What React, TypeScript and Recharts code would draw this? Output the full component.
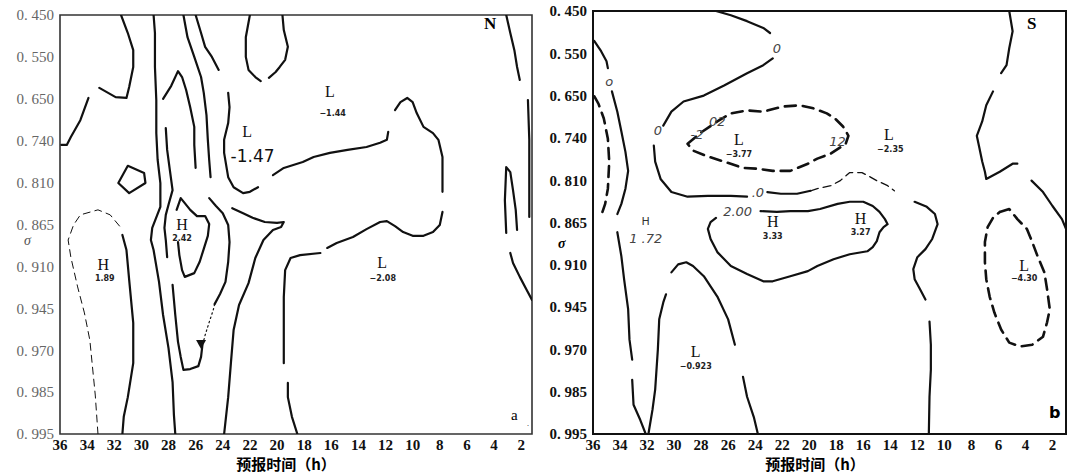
import React from 'react';
import { ComposedChart, Line, Scatter, XAxis, YAxis, ReferenceArea } from 'recharts';

// sigma levels are drawn equally spaced, so y is the level index (0 = 0.450 ... 10 = 0.995)
const sigmaLevels = ['0.450', '0.550', '0.650', '0.740', '0.810', '0.865', '0.910', '0.945', '0.970', '0.985', '0.995'];
const levelTicks = [0, 1, 2, 3, 4, 5, 6, 7, 8, 9, 10];
const hourTicks = [36, 34, 32, 30, 28, 26, 24, 22, 20, 18, 16, 14, 12, 10, 8, 6, 4, 2];

type Pt = [number, number]; // [forecast hour, sigma level index]

// ---- panel a (N) ----
const aWestHook: Pt[] = [[31.5, 0], [31.0, 0.43], [30.6, 0.84], [30.6, 1.24], [30.9, 1.72], [31.1, 1.98], [31.9, 1.96], [33.1, 1.74]];
const aWestEdge: Pt[] = [[33.9, 1.98], [34.5, 2.51], [35.2, 2.91], [35.5, 3.1], [35.9, 3.1]];
const aCell: Pt[] = [[31.0, 3.6], [29.8, 3.77], [29.7, 4.01], [30.9, 4.25], [31.7, 4.01], [31.0, 3.6]];
const aDomeDashed: Pt[] = [[33.2, 10], [33.4, 9.07], [33.8, 7.76], [34.2, 7.11], [34.7, 6.49], [35.2, 5.78], [35.4, 5.37], [35.0, 5.01], [34.5, 4.77], [33.2, 4.65], [32.3, 4.77], [31.5, 5.08]];
const aDomeSolid: Pt[] = [[31.4, 5.25], [31.1, 5.61], [30.9, 6.32], [30.6, 7.35], [30.6, 8.31], [31.0, 9.12], [31.3, 9.59], [31.4, 10]];
const aColumn: Pt[] = [[29.1, 0], [29.0, 0.43], [29.0, 1.24], [28.9, 2.03], [28.9, 2.82], [28.8, 3.46], [28.6, 4.01], [28.6, 4.58], [29.2, 5.08], [29.3, 5.37], [29.1, 5.61], [28.7, 6.37], [28.4, 7.16], [28.0, 7.95], [27.7, 8.76], [27.6, 9.55], [27.5, 10]];
const aInnerTop: Pt[] = [[26.9, 0], [26.6, 0.53], [26.1, 1.0], [25.6, 1.48], [25.4, 1.86], [25.2, 2.39], [25.1, 2.98], [25.0, 3.46], [24.9, 3.87]];
const aInnerMid: Pt[] = [[25.0, 4.37], [24.5, 4.56], [24.0, 4.73], [23.6, 5.01], [23.5, 5.42], [23.6, 5.89], [23.8, 6.37], [24.2, 6.66], [24.6, 6.9]];
const aInnerDots: Pt[] = [[24.6, 6.9], [24.7, 7.04], [25.0, 7.33], [25.3, 7.64], [25.5, 7.88]];
const aInnerFoot: Pt[] = [[25.5, 7.88], [25.6, 8.16], [25.8, 8.38], [26.4, 8.45], [26.9, 8.47], [27.1, 8.16], [27.3, 7.8], [27.5, 7.16], [27.7, 6.44]];
const aInnerRise: Pt[] = [[28.1, 5.78], [28.2, 5.37], [28.3, 5.08], [28.2, 4.77], [28.0, 4.53], [27.7, 4.18], [27.9, 3.7], [28.1, 3.22], [28.2, 2.7]];
const aHook: Pt[] = [[28.4, 2.0], [27.8, 1.69], [27.3, 1.34], [27.0, 1.48], [26.7, 1.79], [26.4, 2.2], [26.1, 2.67], [26.1, 3.1], [26.0, 3.65]];
const aHighCore: Pt[] = [[27.4, 4.65], [27.1, 4.37], [26.8, 4.49], [26.4, 4.65], [25.9, 4.8], [25.3, 4.8], [25.0, 4.99], [25.1, 5.27], [25.4, 5.58], [25.7, 5.89], [26.1, 6.16], [26.8, 6.25], [27.0, 6.09], [27.2, 5.73], [27.3, 5.42]];
const aTongue: Pt[] = [[23.3, 4.61], [22.5, 4.73], [21.8, 4.84], [20.9, 4.94], [20.0, 4.96], [19.5, 4.94], [19.7, 5.06], [20.3, 5.13], [21.0, 5.37], [21.6, 5.8], [22.1, 6.4], [22.8, 6.92], [23.2, 7.52], [23.4, 8.31], [23.6, 9.12], [23.9, 10]];
const aTroughTop: Pt[] = [[26.0, 0], [25.6, 0.43], [25.3, 0.76], [24.8, 1.0], [24.3, 1.31]];
const aTroughWest: Pt[] = [[23.6, 1.86], [23.5, 2.2], [23.6, 2.58], [23.9, 2.98], [23.9, 3.29], [23.6, 3.87], [23.2, 4.11], [22.5, 4.25], [22.0, 4.22], [21.4, 4.11]];
const aRidge: Pt[] = [[20.3, 3.82], [19.5, 3.65], [18.8, 3.58], [18.1, 3.51], [17.3, 3.39], [16.1, 3.29], [14.8, 3.22], [13.4, 3.15], [12.4, 3.05], [11.9, 2.98], [11.8, 2.79]];
const aRidgeCrest: Pt[] = [[11.3, 2.27], [10.9, 2.08], [10.4, 1.98], [10.0, 2.08], [9.7, 2.34], [9.2, 2.67], [8.5, 2.82], [8.1, 2.98], [7.8, 3.39], [7.8, 3.77], [7.8, 4.22]];
const aRidgeBase: Pt[] = [[7.8, 4.7], [8.0, 5.01], [8.5, 5.18], [9.2, 5.27], [10.0, 5.27], [10.7, 5.18], [11.3, 5.04], [11.9, 4.92], [12.4, 4.94], [13.4, 5.11], [14.4, 5.3], [15.6, 5.44], [16.3, 5.56]];
const aRidgeFall: Pt[] = [[16.8, 5.68], [18.3, 5.73], [19.0, 5.8], [19.4, 6.09], [19.5, 6.73], [19.5, 7.52], [19.5, 8.31]];
const aRidgeFoot: Pt[] = [[19.2, 8.78], [19.2, 9.12], [18.9, 9.59], [18.5, 10]];
const aNotchWest: Pt[] = [[22.0, 0], [22.3, 0.53], [22.3, 1.0], [22.1, 1.31], [21.6, 1.48], [21.2, 1.58]];
const aNotchEast: Pt[] = [[20.6, 1.5], [20.1, 1.36], [19.8, 1.24], [19.4, 1.07], [19.2, 0.76], [19.5, 0.36], [19.6, 0]];
const aEdgeNorth: Pt[] = [[3.1, 0], [2.8, 0.43], [2.5, 0.84], [2.3, 1.24], [2.1, 1.55]];
const aEdgeRim: Pt[] = [[1.5, 2.03], [1.4, 2.98], [1.4, 3.94], [1.4, 4.82]];
const aEdgeTongue: Pt[] = [[3.1, 5.2], [3.2, 4.42], [3.1, 3.63], [2.8, 3.75], [2.6, 4.18], [2.4, 4.65], [2.3, 5.13]];
const aEdgeSouth: Pt[] = [[2.8, 5.68], [2.6, 5.92], [2.1, 6.25], [1.6, 6.56], [1.2, 6.8]];

const aCentres = [
  { h: 16.1, lv: 1.82, text: 'L' }, { h: 22.2, lv: 2.78, text: 'L' }, { h: 27.0, lv: 4.99, text: 'H' },
  { h: 32.8, lv: 5.95, text: 'H' }, { h: 12.25, lv: 5.9, text: 'L' },
];
const aValues = [
  { h: 15.9, lv: 2.36, text: '−1.44' }, { h: 27.0, lv: 5.33, text: '2.42' },
  { h: 32.7, lv: 6.3, text: '1.89' }, { h: 12.2, lv: 6.3, text: '−2.08' },
];
const aHandNotes = [{ h: 21.8, lv: 3.36, text: '-1.47' }];
const aMarker = [{ h: 25.6, lv: 7.85 }];

// ---- panel b (S) ----
const bTopArc: Pt[] = [[26.9, 0], [25.8, 0.1], [24.6, 0.24], [23.4, 0.4], [22.9, 0.52]];
const bUpperFront: Pt[] = [[22.7, 1.12], [23.4, 1.28], [24.6, 1.47], [26.3, 1.76], [27.8, 2.0], [29.3, 2.14], [30.2, 2.38], [30.8, 2.71]];
const bMidFront: Pt[] = [[31.5, 3.18], [31.4, 3.56], [31.0, 3.97], [30.2, 4.28], [29.0, 4.39], [27.5, 4.37], [25.8, 4.37], [24.6, 4.39]];
const bMidEast: Pt[] = [[23.1, 4.28], [22.1, 4.32], [20.9, 4.32], [19.9, 4.25]];
const bMidFaint: Pt[] = [[19.9, 4.25], [19.4, 4.2], [18.4, 4.13], [17.7, 4.01], [17.0, 3.82], [16.1, 3.82], [15.5, 3.92], [15.0, 4.01], [14.2, 4.13], [13.7, 4.25]];
const bBend: Pt[] = [[12.2, 4.51], [11.3, 4.63], [10.7, 4.8], [10.5, 5.04], [10.9, 5.39], [11.4, 5.63], [12.0, 5.82], [12.3, 6.1], [12.2, 6.34], [11.8, 6.58], [11.4, 6.82]];
const bStem: Pt[] = [[11.1, 7.34], [11.0, 7.89], [11.0, 8.48], [11.1, 9.12], [11.15, 10]];
const bUpperLow: Pt[] = [[29.0, 3.14], [28.0, 2.87], [26.8, 2.61], [25.8, 2.42], [24.6, 2.35], [23.4, 2.38], [22.0, 2.26], [20.7, 2.23], [19.7, 2.3], [18.7, 2.42], [18.1, 2.54], [17.5, 2.73], [17.1, 2.95], [17.3, 3.14], [18.4, 3.37], [19.4, 3.49], [20.1, 3.61], [21.4, 3.78], [22.7, 3.78], [23.8, 3.73], [24.9, 3.71], [26.3, 3.56], [27.5, 3.44], [28.6, 3.3], [29.0, 3.14]];
const bWestTop: Pt[] = [[35.9, 0.71], [35.4, 0.95], [35.0, 1.19], [34.9, 1.35]];
const bWestRidge: Pt[] = [[34.6, 1.9], [34.2, 2.38], [33.9, 2.85], [33.6, 3.33], [33.4, 3.78], [33.6, 4.2], [33.9, 4.56], [34.2, 4.8]];
const bWestDashed: Pt[] = [[35.9, 2.02], [35.6, 2.19], [35.2, 2.54], [34.9, 3.02], [34.8, 3.56], [34.9, 4.2], [35.1, 4.56], [35.3, 4.75]];
const bVWest: Pt[] = [[34.2, 5.23], [33.9, 5.8], [33.7, 6.34], [33.4, 7.05], [33.3, 7.77], [33.1, 8.24]];
const bV: Pt[] = [[33.1, 8.72], [33.0, 9.31], [32.5, 9.67], [32.1, 10], [31.9, 10], [31.6, 9.43], [31.4, 8.95], [31.2, 8.0], [31.1, 7.29], [30.8, 6.89], [30.6, 6.7]];
const bLowArch: Pt[] = [[30.2, 6.18], [29.7, 5.99], [29.1, 5.94], [28.6, 6.03], [27.8, 6.27], [26.8, 6.75], [26.0, 7.29], [25.5, 7.89]];
const bLowArchFoot: Pt[] = [[24.9, 8.65], [24.6, 9.12], [24.1, 9.6], [23.8, 10]];
const bHighBand: Pt[] = [[23.6, 4.73], [22.4, 4.75], [21.4, 4.73], [20.1, 4.73], [19.2, 4.68], [17.9, 4.56], [17.0, 4.51], [16.0, 4.51], [15.3, 4.61], [14.8, 4.75], [14.4, 4.92], [14.2, 5.04], [14.5, 5.11], [14.8, 5.23], [15.0, 5.44], [15.3, 5.58], [15.7, 5.68], [17.0, 5.75], [18.2, 5.87], [19.4, 6.03], [20.1, 6.15], [21.4, 6.27], [22.7, 6.39], [23.4, 6.39], [24.6, 6.22], [25.8, 6.03], [26.8, 5.7], [27.3, 5.39], [27.5, 5.15], [27.3, 4.99], [26.9, 4.89]];
const bSTop: Pt[] = [[5.2, 0], [4.95, 0.48], [5.2, 0.88], [5.4, 1.28], [5.8, 1.47]];
const bSBend: Pt[] = [[6.4, 1.9], [6.9, 2.23], [7.2, 2.61], [7.6, 2.95], [7.4, 3.25], [7.2, 3.56], [7.0, 3.8], [6.9, 3.97], [5.9, 3.8], [4.95, 3.61], [4.6, 3.61]];
const bSTail: Pt[] = [[3.55, 4.01], [2.7, 4.28], [2.0, 4.61], [1.3, 4.92], [1.0, 5.15]];
const bSouthLow: Pt[] = [[5.9, 4.75], [5.2, 4.68], [4.6, 4.92], [3.9, 5.15], [3.5, 5.46], [3.1, 5.8], [2.6, 6.18], [2.4, 6.58], [2.2, 7.05], [2.4, 7.36], [2.7, 7.7], [3.5, 7.89], [4.4, 7.93], [5.2, 7.84], [5.8, 7.53], [6.3, 7.13], [6.65, 6.75], [6.9, 6.34], [7.0, 5.94], [7.0, 5.46], [6.8, 5.11], [6.4, 4.89], [5.9, 4.75]];

const bCentres = [
  { h: 25.2, lv: 3.04, text: 'L' }, { h: 14.1, lv: 2.93, text: 'L' }, { h: 22.7, lv: 4.97, text: 'H' },
  { h: 16.2, lv: 4.9, text: 'H' }, { h: 28.4, lv: 8.06, text: 'L' }, { h: 4.1, lv: 6.01, text: 'L' },
];
const bValues = [
  { h: 25.2, lv: 3.39, text: '−3.77' }, { h: 14.0, lv: 3.27, text: '−2.35' }, { h: 22.7, lv: 5.34, text: '3.33' },
  { h: 16.2, lv: 5.24, text: '3.27' }, { h: 28.4, lv: 8.4, text: '−0.923' }, { h: 4.1, lv: 6.33, text: '−4.30' },
];
const bHandNotes = [
  { h: 32.1, lv: 5.38, text: '1 .72' }, { h: 28.3, lv: 2.92, text: '-2' }, { h: 26.8, lv: 2.62, text: '02' },
  { h: 25.3, lv: 4.75, text: '2.00' }, { h: 22.4, lv: 0.88, text: '0' }, { h: 31.2, lv: 2.83, text: '0' },
  { h: 23.8, lv: 4.3, text: '.0' }, { h: 17.9, lv: 3.09, text: '12' }, { h: 34.8, lv: 1.66, text: 'o' },
];
const bSmallH = [{ h: 32.1, lv: 4.97, text: 'H' }];

type Kind = 'solid' | 'thin' | 'dash' | 'dot' | 'faint';
type Trace = { pts: Pt[]; kind: Kind };

const aTraces: Trace[] = [
  { pts: aWestHook, kind: 'solid' }, { pts: aWestEdge, kind: 'solid' }, { pts: aCell, kind: 'solid' },
  { pts: aDomeDashed, kind: 'thin' }, { pts: aDomeSolid, kind: 'solid' }, { pts: aColumn, kind: 'solid' },
  { pts: aInnerTop, kind: 'solid' }, { pts: aInnerMid, kind: 'solid' }, { pts: aInnerDots, kind: 'dot' },
  { pts: aInnerFoot, kind: 'solid' }, { pts: aInnerRise, kind: 'solid' }, { pts: aHook, kind: 'solid' },
  { pts: aHighCore, kind: 'solid' }, { pts: aTongue, kind: 'solid' }, { pts: aTroughTop, kind: 'solid' },
  { pts: aTroughWest, kind: 'solid' }, { pts: aRidge, kind: 'solid' }, { pts: aRidgeCrest, kind: 'solid' },
  { pts: aRidgeBase, kind: 'solid' }, { pts: aRidgeFall, kind: 'solid' }, { pts: aRidgeFoot, kind: 'solid' },
  { pts: aNotchWest, kind: 'solid' }, { pts: aNotchEast, kind: 'solid' }, { pts: aEdgeNorth, kind: 'solid' },
  { pts: aEdgeRim, kind: 'solid' }, { pts: aEdgeTongue, kind: 'solid' }, { pts: aEdgeSouth, kind: 'solid' },
];

const bTraces: Trace[] = [
  { pts: bTopArc, kind: 'solid' }, { pts: bUpperFront, kind: 'solid' }, { pts: bMidFront, kind: 'solid' },
  { pts: bMidEast, kind: 'solid' }, { pts: bMidFaint, kind: 'faint' }, { pts: bBend, kind: 'solid' },
  { pts: bStem, kind: 'solid' }, { pts: bUpperLow, kind: 'dash' }, { pts: bWestTop, kind: 'solid' },
  { pts: bWestRidge, kind: 'solid' }, { pts: bWestDashed, kind: 'dash' }, { pts: bVWest, kind: 'solid' },
  { pts: bV, kind: 'solid' }, { pts: bLowArch, kind: 'solid' }, { pts: bLowArchFoot, kind: 'solid' },
  { pts: bHighBand, kind: 'solid' }, { pts: bSTop, kind: 'solid' }, { pts: bSBend, kind: 'solid' },
  { pts: bSTail, kind: 'solid' }, { pts: bSouthLow, kind: 'dash' },
];

const strokeOf: Record<Kind, { w: number; dash?: string }> = {
  solid: { w: 2.2 },
  thin: { w: 1, dash: '7 5' },
  dash: { w: 2.6, dash: '11 7' },
  dot: { w: 1.2, dash: '1.5 3' },
  faint: { w: 1.3, dash: '8 5' },
};

const toRows = (pts: Pt[]) => pts.map(([h, lv]) => ({ h, lv }));

const textShape = (style: React.SVGProps<SVGTextElement>) => (p: any) => (
  <text x={p.cx} y={p.cy} textAnchor="middle" dominantBaseline="central" {...style}>
    {p.payload.text}
  </text>
);

const arrowShape = (p: any) => (
  <path d={`M${p.cx - 5},${p.cy - 4} L${p.cx + 5},${p.cy - 4} L${p.cx},${p.cy + 5} Z`} fill="#111" />
);

type Note = { h: number; lv: number; text: string };
type PanelProps = {
  left: number;
  width: number;
  top: number;
  yWidth: number;
  right: number;
  xMin: number;
  traces: Trace[];
  centres: Note[];
  values: Note[];
  hand: Note[];
  handStyle: React.SVGProps<SVGTextElement>;
  small?: Note[];
  marker?: { h: number; lv: number }[];
  yTickStyle: React.SVGProps<SVGTextElement>;
  borderColor: string;
  borderWidth: number;
};

function Panel(props: PanelProps) {
  const { left, width, top, yWidth, right, xMin, traces } = props;
  return (
    <div style={{ position: 'absolute', left, top: 0 }}>
      <ComposedChart width={width} height={476} margin={{ top, right, bottom: 14, left: 4 }}>
        <XAxis
          type="number"
          dataKey="h"
          domain={[xMin, 36]}
          reversed
          allowDataOverflow
          ticks={hourTicks}
          interval={0}
          axisLine={false}
          tickLine={false}
          tickSize={3}
          tickMargin={2}
          height={28}
          tick={{ fill: '#111', fontSize: 15, fontWeight: 700, fontFamily: '"Liberation Serif", serif' }}
        />
        <YAxis
          type="number"
          dataKey="lv"
          domain={[0, 10]}
          reversed
          allowDataOverflow
          ticks={levelTicks}
          interval={0}
          width={yWidth}
          axisLine={false}
          tickLine={false}
          tickSize={4}
          tickMargin={2}
          tickFormatter={(v: number) => sigmaLevels[v].replace('.', '. ')}
          tick={props.yTickStyle as any}
        />
        <ReferenceArea x1={xMin} x2={36} y1={0} y2={10} fill="none" stroke={props.borderColor} strokeWidth={props.borderWidth} fillOpacity={0} />
        {traces.map((t, i) => (
          <Line
            key={i}
            data={toRows(t.pts)}
            dataKey="lv"
            type="linear"
            stroke="#111"
            strokeWidth={strokeOf[t.kind].w}
            strokeDasharray={strokeOf[t.kind].dash}
            strokeLinecap="round"
            strokeLinejoin="round"
            dot={false}
            activeDot={false}
            isAnimationActive={false}
          />
        ))}
        <Scatter data={props.centres} dataKey="lv" isAnimationActive={false}
          shape={textShape({ fontSize: 16, fontFamily: '"Liberation Serif", serif', fill: '#111' })} />
        <Scatter data={props.values} dataKey="lv" isAnimationActive={false}
          shape={textShape({ fontSize: 8, fontWeight: 700, fontFamily: '"DejaVu Sans", sans-serif', fill: '#222' })} />
        <Scatter data={props.hand} dataKey="lv" isAnimationActive={false} shape={textShape(props.handStyle)} />
        {props.small && (
          <Scatter data={props.small} dataKey="lv" isAnimationActive={false}
            shape={textShape({ fontSize: 11, fontFamily: '"DejaVu Sans", sans-serif', fill: '#333' })} />
        )}
        {props.marker && <Scatter data={props.marker} dataKey="lv" isAnimationActive={false} shape={arrowShape} />}
      </ComposedChart>
    </div>
  );
}

const abs = (l: number, t: number, extra: React.CSSProperties = {}): React.CSSProperties => ({
  position: 'absolute', left: l, top: t, lineHeight: 1, whiteSpace: 'nowrap', ...extra,
});

export default function App() {
  return (
    <div style={{ position: 'absolute', left: 0, top: 0, width: 1072, height: 476, background: '#fff', overflow: 'hidden', fontFamily: '"Liberation Serif", serif' }}>
      <Panel
        left={0} width={540} top={15} yWidth={56} right={8} xMin={1.2}
        traces={aTraces} centres={aCentres} values={aValues} hand={aHandNotes}
        handStyle={{ fontSize: 17, fontFamily: '"DejaVu Sans", sans-serif', fill: '#111' }}
        marker={aMarker}
        yTickStyle={{ fill: '#666', fontSize: 15, fontFamily: '"Liberation Serif", serif' }}
        borderColor="#333" borderWidth={1.6}
      />
      <Panel
        left={540} width={532} top={11} yWidth={49} right={6} xMin={1.0}
        traces={bTraces} centres={bCentres} values={bValues} hand={bHandNotes}
        handStyle={{ fontSize: 13, fontStyle: 'italic', fontFamily: '"DejaVu Sans", sans-serif', fill: '#444' }}
        small={bSmallH}
        yTickStyle={{ fill: '#111', fontSize: 15, fontWeight: 700, fontFamily: '"Liberation Serif", serif' }}
        borderColor="#111" borderWidth={2}
      />
      <div style={abs(24, 234, { fontSize: 14, fontStyle: 'italic', color: '#555' })}>σ</div>
      <div style={abs(558, 237, { fontSize: 14, fontStyle: 'italic', fontWeight: 700 })}>σ</div>
      <div style={abs(186, 456, { width: 200, textAlign: 'center', fontSize: 15, fontWeight: 700, fontFamily: '"Noto Sans CJK SC", sans-serif' })}>预报时间（h）</div>
      <div style={abs(715, 456, { width: 200, textAlign: 'center', fontSize: 15, fontWeight: 700, fontFamily: '"Noto Sans CJK SC", sans-serif' })}>预报时间（h）</div>
      <div style={abs(484, 15, { fontSize: 17, fontWeight: 700 })}>N</div>
      <div style={abs(511, 408, { fontSize: 15 })}>a</div>
      <div style={abs(527, 420, { fontSize: 8 })}>.</div>
      <div style={abs(1027, 15, { fontSize: 17, fontWeight: 700 })}>S</div>
      <div style={abs(1049, 405, { fontSize: 16, fontWeight: 700, fontFamily: '"DejaVu Sans", sans-serif' })}>b</div>
    </div>
  );
}
